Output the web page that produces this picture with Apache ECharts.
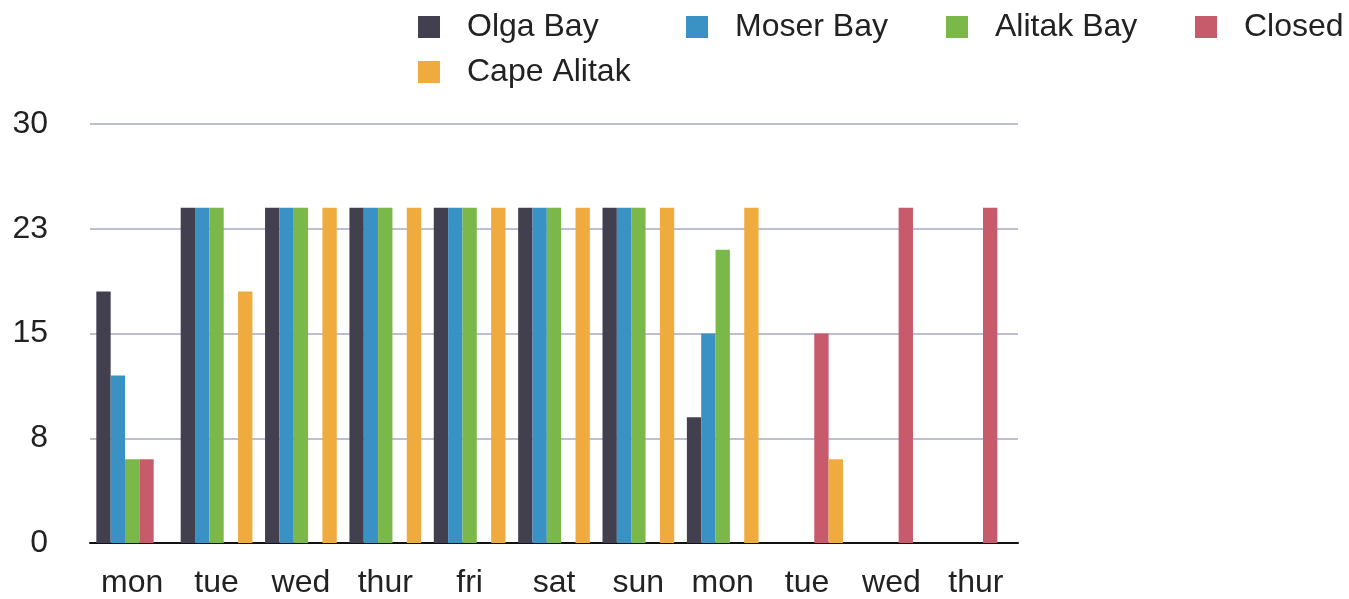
<!DOCTYPE html>
<html>
<head>
<meta charset="utf-8">
<script src="https://cdn.jsdelivr.net/npm/echarts@6/dist/echarts.min.js"></script>
<style>
  html, body { margin: 0; padding: 0; background: #fff; }
  #chart { width: 1349px; height: 599px; }
</style>
</head>
<body>
<div id="chart"></div>
<script>
const days = ['mon', 'tue', 'wed', 'thur', 'fri', 'sat', 'sun', 'mon', 'tue', 'wed', 'thur']

const olgaBay = [18, 24, 24, 24, 24, 24, 24, 9, 0, 0, 0]
const moserBay = [12, 24, 24, 24, 24, 24, 24, 15, 0, 0, 0]
const alitakBay = [6, 24, 24, 24, 24, 24, 24, 21, 0, 0, 0]
const closed = [6, 0, 0, 0, 0, 0, 0, 0, 15, 24, 24]
const capeAlitak = [0, 18, 24, 24, 24, 24, 24, 24, 6, 0, 0]

const seriesNames = ['Olga Bay', 'Moser Bay', 'Alitak Bay', 'Closed', 'Cape Alitak']
const seriesValues = [olgaBay, moserBay, alitakBay, closed, capeAlitak]
const colors = ['#423f4e', '#3a91c3', '#7bb84a', '#c75b6b', '#efab3d']

const font = '"Liberation Sans", Arial, sans-serif'

// legend spots, one legend per item so the columns line up like the picture
const legendSpots = [
  { left: 418, top: 11 },
  { left: 686, top: 11 },
  { left: 946, top: 11 },
  { left: 1195, top: 11 },
  { left: 418, top: 56 }
]

const chart = echarts.init(document.getElementById('chart'))

const option = {
  animation: false,
  color: colors,
  legend: seriesNames.map((name, i) => ({
    data: [name],
    left: legendSpots[i].left,
    top: legendSpots[i].top,
    padding: 0,
    icon: 'rect',
    itemWidth: 22,
    itemHeight: 22,
    selectedMode: false,
    textStyle: {
      fontFamily: font,
      fontSize: 32,
      color: '#222',
      padding: [0, 0, 0, 22]
    }
  })),
  grid: {
    left: 90,
    right: 331,
    top: 124,
    bottom: 56
  },
  xAxis: {
    type: 'category',
    data: days,
    axisLine: { lineStyle: { color: '#111', width: 2 } },
    axisTick: { show: false },
    axisLabel: {
      fontFamily: font,
      fontSize: 32,
      color: '#222',
      margin: 24,
      interval: 0
    }
  },
  yAxis: {
    type: 'value',
    min: 0,
    max: 30,
    interval: 7.5,
    axisLine: { show: false },
    axisTick: { show: false },
    axisLabel: {
      fontFamily: font,
      fontSize: 32,
      color: '#222',
      margin: 42,
      formatter: v => String(Math.round(v))
    },
    splitLine: { lineStyle: { color: '#bdbdd3', width: 2 } }
  },
  series: seriesNames.map((name, i) => ({
    name: name,
    type: 'bar',
    data: seriesValues[i],
    barGap: '0%',
    barCategoryGap: '15%'
  }))
}

chart.setOption(option)
</script>
</body>
</html>
